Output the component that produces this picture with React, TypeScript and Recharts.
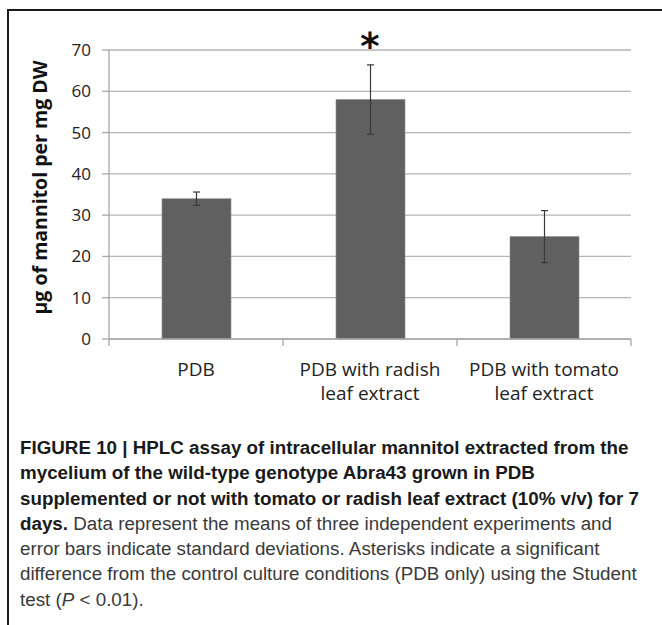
import { BarChart, Bar, XAxis, YAxis, CartesianGrid, ErrorBar, ReferenceDot } from "recharts";

// values (µg mannitol per mg DW)
const categories = ["PDB", "PDB with radish leaf extract", "PDB with tomato leaf extract"];
const tickLabels = [["PDB"], ["PDB with radish", "leaf extract"], ["PDB with tomato", "leaf extract"]];
const means = [34.0, 58.0, 24.8];
const sds = [1.6, 8.4, 6.3];
const significant = [false, true, false];
const yTicks = [0, 10, 20, 30, 40, 50, 60, 70];

const data = categories.map((name, i) => ({ name, mean: means[i], sd: sds[i] }));

const chartFont = "'Open Sans', 'Noto Sans', sans-serif";
const axisGray = "#a8a8a8";

// category label + Excel-style tick marks on the band edges
const CatTick = (props: any) => {
  const { x, y, payload, index, visibleTicksCount } = props;
  const idx = categories.indexOf(payload.value);
  const lines = idx >= 0 ? tickLabels[idx] : [String(payload.value)];
  const half = payload.offset || 0;
  return (
    <g>
      <line x1={x - half} y1={y} x2={x - half} y2={y + 7} stroke={axisGray} strokeWidth={1.3} />
      {index === visibleTicksCount - 1 && (
        <line x1={x + half} y1={y} x2={x + half} y2={y + 7} stroke={axisGray} strokeWidth={1.3} />
      )}
      <text x={x} y={y} textAnchor="middle" fill="#222" fontSize={19} fontFamily={chartFont}>
        {lines.map((l, i) => (
          <tspan key={i} x={x} dy={i === 0 ? 37 : 23.5}>{l}</tspan>
        ))}
      </text>
    </g>
  );
};

const YLabel = (props: any) => {
  const { viewBox } = props;
  const cx = viewBox.x + 39;
  const cy = viewBox.y + viewBox.height / 2 - 7;
  return (
    <text
      x={cx}
      y={cy}
      transform={`rotate(-90 ${cx} ${cy})`}
      textAnchor="middle"
      dominantBaseline="central"
      fontWeight="bold"
      fontSize={19.5}
      fill="#111"
      fontFamily={chartFont}
    >
      µg of mannitol per mg DW
    </text>
  );
};

const Asterisk = (props: any) => {
  const { cx, cy } = props;
  return (
    <text x={cx} y={cy + 9} textAnchor="middle" fontSize={37} fontWeight="bold" fill="#111" fontFamily="'DejaVu Sans', sans-serif">
      *
    </text>
  );
};

export default function App() {
  return (
    <div style={{ position: "absolute", left: 0, top: 0, width: 662, height: 625, background: "#fff", overflow: "hidden" }}>
      <div style={{ position: "absolute", left: 7, top: 9, right: -10, bottom: -10, borderTop: "2px solid #1a1a1a", borderLeft: "2px solid #1a1a1a" }} />
      <div style={{ position: "absolute", left: 0, top: 0 }}>
        <BarChart width={662} height={420} data={data} margin={{ top: 50, right: 31, bottom: 0, left: 0 }}>
          <CartesianGrid horizontal vertical={false} stroke="#b5b5b5" strokeWidth={1.3} />
          <XAxis
            dataKey="name"
            interval={0}
            height={81}
            tickSize={0}
            tickMargin={0}
            tickLine={false}
            axisLine={{ stroke: axisGray, strokeWidth: 1.3 }}
            tick={<CatTick />}
          />
          <YAxis
            domain={[0, 70]}
            ticks={yTicks}
            width={109}
            tickSize={7}
            tickMargin={11}
            axisLine={{ stroke: axisGray, strokeWidth: 1.3 }}
            tickLine={{ stroke: axisGray, strokeWidth: 1.3 }}
            tick={{ fontSize: 17, fill: "#222", fontFamily: chartFont }}
            label={<YLabel />}
          />
          <Bar dataKey="mean" fill="#606060" stroke="#8a8a8a" strokeWidth={0.6} barSize={69} isAnimationActive={false}>
            <ErrorBar dataKey="sd" width={3.5} stroke="#3a3a3a" strokeWidth={1.2} direction="y" />
          </Bar>
          {categories.map((c, i) =>
            significant[i] ? (
              <ReferenceDot key={c} x={c} y={yTicks[yTicks.length - 1]} ifOverflow="visible" shape={Asterisk} />
            ) : null
          )}
        </BarChart>
      </div>
      <div
        style={{
          position: "absolute",
          left: 20,
          top: 435,
          width: 640,
          fontFamily: "'Liberation Sans Narrow', 'Liberation Sans', Arial, sans-serif",
          fontSize: 18.8,
          lineHeight: "25.3px",
          color: "#3a3a3a",
          whiteSpace: "nowrap",
        }}
      >
        <b style={{ color: "#1a1a1a" }}>FIGURE 10 | HPLC assay of intracellular mannitol extracted from the</b>
        <br />
        <b style={{ color: "#1a1a1a" }}>mycelium of the wild-type genotype Abra43 grown in PDB</b>
        <br />
        <b style={{ color: "#1a1a1a" }}>supplemented or not with tomato or radish leaf extract (10% v/v) for 7</b>
        <br />
        <b style={{ color: "#1a1a1a" }}>days.</b> Data represent the means of three independent experiments and
        <br />
        error bars indicate standard deviations. Asterisks indicate a significant
        <br />
        difference from the control culture conditions (PDB only) using the Student
        <br />
        test (<i>P</i> &lt; 0.01).
      </div>
    </div>
  );
}
